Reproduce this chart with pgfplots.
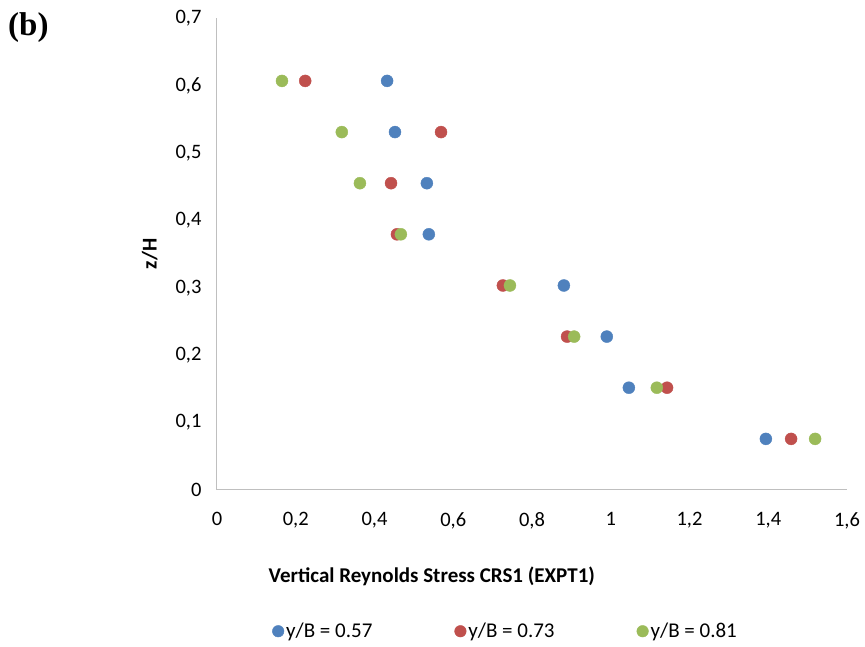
\documentclass[border=0pt]{standalone}
\usepackage{pgfplots}
\pgfplotsset{compat=1.18}
\usepackage{fontspec}
\setmainfont{Carlito}
\newfontfamily\timesfont{Liberation Serif}
\definecolor{cblue}{HTML}{4F81BD}
\definecolor{cred}{HTML}{C0504D}
\definecolor{cgreen}{HTML}{9BBB59}
\definecolor{axgray}{HTML}{BFBFBF}
\begin{document}
\begin{tikzpicture}[x=1pt,y=1pt]
\path[use as bounding box] (-217,-157) rectangle (648,490);
\begin{axis}[
  at={(0,0)}, anchor=origin,
  scale only axis, width=630pt, height=472pt,
  xmin=0, xmax=1.6, ymin=0, ymax=0.7,
  xtick={0,0.2,...,1.6}, ytick={0,0.1,...,0.7},
  axis x line*=bottom, axis y line*=left,
  axis line style={axgray, line width=1pt, -},
  major tick length=0pt,
  tick label style={font=\fontsize{20.5}{24}\selectfont},
  /pgf/number format/assume math mode=true,
  /pgf/number format/use comma,
  /pgf/number format/fixed,
  yticklabel style={xshift=-12pt},
  xticklabel style={yshift=-19pt},
  xlabel={\textbf{Vertical Reynolds Stress CRS1 (EXPT1)}},
  ylabel={\textbf{z/H}},
  label style={font=\fontsize{21}{25}\selectfont},
  xlabel style={at={(axis description cs:0.341,0)}, anchor=north, yshift=-73pt},
  ylabel style={at={(axis description cs:0,0.5)}, anchor=south, yshift=56pt},
  legend columns=3,
  legend style={at={(axis description cs:0.458,0)}, anchor=north, yshift=-129pt, draw=none, font=\fontsize{21}{25}\selectfont, /tikz/every even column/.append style={column sep=80pt}},
  legend image code/.code={\fill[#1] (0.05cm,0cm) circle (5.8pt);},
  clip=false,
]
\addplot[only marks, mark=*, mark size=6pt, cblue, mark options={draw=none, fill=cblue}] coordinates {
(0.432,0.6067) (0.452,0.5308) (0.533,0.4550) (0.538,0.3792) (0.881,0.3033) (0.990,0.2275) (1.046,0.1517) (1.394,0.0758)};
\addlegendentry{y/B = 0.57}
\addplot[only marks, mark=*, mark size=6pt, cred, mark options={draw=none, fill=cred}] coordinates {
(0.224,0.6067) (0.569,0.5308) (0.442,0.4550) (0.457,0.3792) (0.726,0.3033) (0.889,0.2275) (1.143,0.1517) (1.458,0.0758)};
\addlegendentry{y/B = 0.73}
\addplot[only marks, mark=*, mark size=6pt, cgreen, mark options={draw=none, fill=cgreen}] coordinates {
(0.165,0.6067) (0.317,0.5308) (0.363,0.4550) (0.467,0.3792) (0.744,0.3033) (0.907,0.2275) (1.117,0.1517) (1.519,0.0758)};
\addlegendentry{y/B = 0.81}
\end{axis}
\node[anchor=north west, font=\timesfont\bfseries\fontsize{33}{38}\selectfont, inner sep=0pt] at (-209,478) {(b)};
\end{tikzpicture}
\end{document}
